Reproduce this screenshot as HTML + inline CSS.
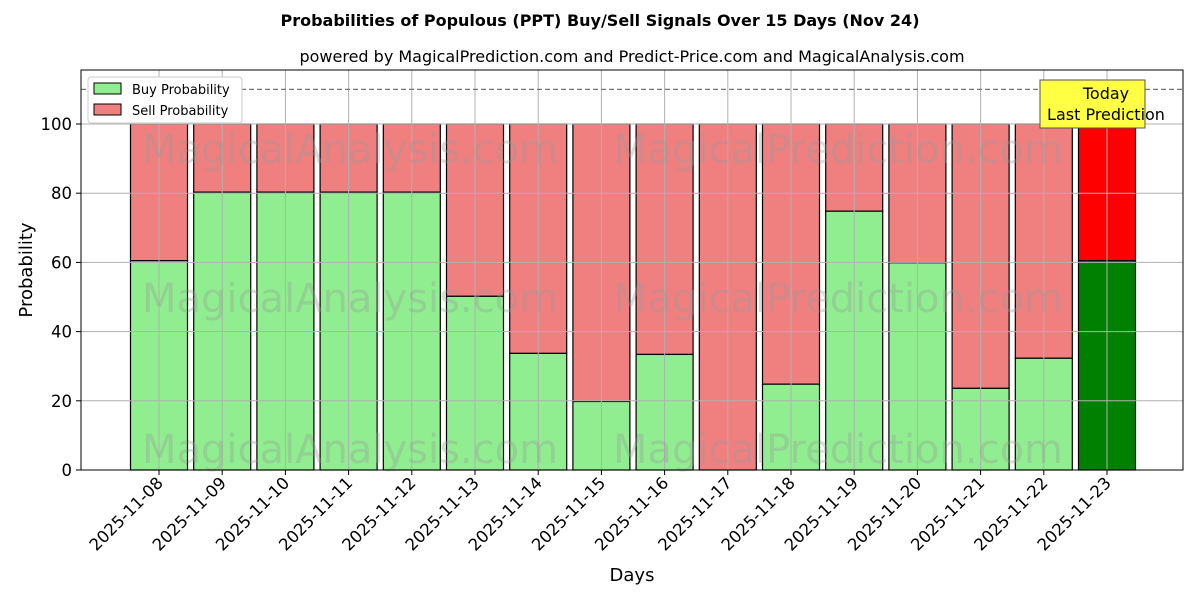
<!DOCTYPE html>
<html><head><meta charset="utf-8"><style>body{margin:0;background:#fff}svg{display:block}</style></head>
<body>
<svg width="1200" height="600" viewBox="0 0 1200 600" xmlns="http://www.w3.org/2000/svg" font-family="'DejaVu Sans', 'Liberation Sans', sans-serif">
<rect width="1200" height="600" fill="#fff"/>
<text x="600" y="26" text-anchor="middle" font-size="16" font-weight="bold">Probabilities of Populous (PPT) Buy/Sell Signals Over 15 Days (Nov 24)</text>
<text x="632" y="62" text-anchor="middle" font-size="16">powered by MagicalPrediction.com and Predict-Price.com and MagicalAnalysis.com</text>
<g id="bars" stroke="#000" stroke-width="1.2"></g>
<g id="grid" stroke="#b0b0b0" stroke-width="1"></g>
<g font-size="40" fill="#999" opacity="0.35" text-anchor="middle">
<text x="350" y="163">MagicalAnalysis.com</text>
<text x="838" y="163">MagicalPrediction.com</text>
<text x="350" y="312">MagicalAnalysis.com</text>
<text x="838" y="312">MagicalPrediction.com</text>
<text x="350" y="463">MagicalAnalysis.com</text>
<text x="838" y="463">MagicalPrediction.com</text>
</g>
<line x1="81" y1="89.4" x2="1183" y2="89.4" stroke="#777" stroke-width="1.2" stroke-dasharray="5,3"/>
<rect x="81" y="70" width="1102" height="400" fill="none" stroke="#000" stroke-width="1"/>
<g id="ticks" font-size="16.5"></g>
<text x="32" y="270" transform="rotate(-90 32 270)" text-anchor="middle" font-size="18">Probability</text>
<text x="632" y="581" text-anchor="middle" font-size="18">Days</text>
<g>
<rect x="88" y="77" width="154" height="46" fill="#fff" stroke="#ccc" rx="3"/>
<rect x="94" y="83" width="27" height="11" fill="lightgreen" stroke="#000"/>
<text x="132" y="94" font-size="13">Buy Probability</text>
<rect x="94" y="104" width="27" height="11" fill="lightcoral" stroke="#000"/>
<text x="132" y="115" font-size="13">Sell Probability</text>
</g>
<rect x="1040" y="80" width="105" height="48" fill="#ffff44" stroke="#555"/>
<text x="1106" y="99" text-anchor="middle" font-size="16">Today</text>
<text x="1106" y="120" text-anchor="middle" font-size="16">Last Prediction</text>
<script>
const v=[60.5,80.3,80.3,80.3,80.3,50.2,33.7,19.8,33.4,0,24.8,74.8,59.9,23.6,32.3,60.5];
const Y=x=>470-3.46*x;const ns="http://www.w3.org/2000/svg";
const mk=(p,t,a,txt)=>{const e=document.createElementNS(ns,t);for(const k in a)e.setAttribute(k,a[k]);if(txt!==undefined)e.textContent=txt;p.appendChild(e);return e};
const b=document.getElementById('bars'),g=document.getElementById('grid'),tk=document.getElementById('ticks');
v.forEach((val,i)=>{const c=159+i*63.2;const last=i==15;
mk(b,'rect',{x:c-28.5,y:Y(100),width:57,height:Y(val)-Y(100),fill:last?'red':'lightcoral'});
mk(b,'rect',{x:c-28.5,y:Y(val),width:57,height:470-Y(val),fill:last?'green':'lightgreen'});
mk(g,'line',{x1:c,y1:70,x2:c,y2:470});
mk(tk,'line',{x1:c,y1:470,x2:c,y2:475,stroke:'#000'});
const d=new Date(Date.UTC(2025,10,8+i)).toISOString().slice(0,10);
mk(tk,'text',{x:c+5,y:484,'text-anchor':'end',transform:`rotate(-45 ${c+5} 484)`},d);});
for(let t=0;t<=100;t+=20){const y=Y(t);mk(g,'line',{x1:81,y1:y,x2:1183,y2:y});
mk(tk,'line',{x1:76,y1:y,x2:81,y2:y,stroke:'#000'});mk(tk,'text',{x:72,y:y+6,'text-anchor':'end'},t);}
</script>
</svg>
</body></html>
